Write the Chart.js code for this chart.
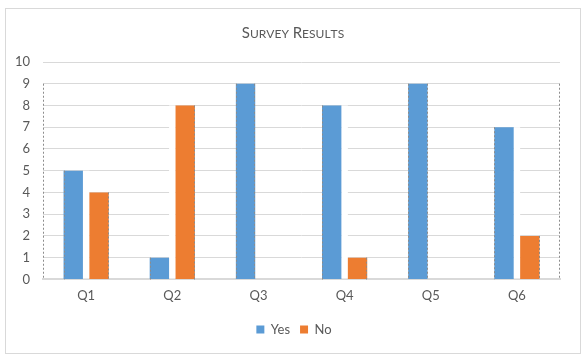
<!DOCTYPE html>
<html><head><meta charset="utf-8">
<script src="https://cdn.jsdelivr.net/npm/chart.js@4/dist/chart.umd.min.js"></script>
<style>html,body{margin:0;padding:0;background:#fff}#wrap{width:586px;height:361px;position:relative}</style>
</head><body><div id="wrap"><canvas id="c" width="586" height="361"></canvas></div>
<script>
const categories = ['Q1','Q2','Q3','Q4','Q5','Q6'];
const yesValues = [5,1,9,8,9,7];
const noValues = [4,8,0,1,0,2];
const seriesNames = ['Yes','No'];
const yTicks = [0,1,2,3,4,5,6,7,8,9,10];
const chartTitle = 'Survey Results';

const FONT = 'Lato, "Liberation Sans", sans-serif';

const framePlugin = {
  id:'frame',
  afterLayout(chart){
    if (chart.legend){ chart.legend.left += 26; }
  },
  beforeDraw(chart){
    const ctx = chart.ctx;
    ctx.save();
    ctx.fillStyle='#fff';
    ctx.fillRect(0,0,chart.width,chart.height);
    ctx.strokeStyle='#d9d9d9';
    ctx.lineWidth=1;
    ctx.strokeRect(5.5,8.5,575,345);
    ctx.restore();
  },
  beforeDatasetsDraw(chart){
    const ctx = chart.ctx, y = chart.scales.y;
    const m0 = chart.getDatasetMeta(0).data, m1 = chart.getDatasetMeta(1).data;
    ctx.save();
    ctx.fillStyle='#fff';
    m0.forEach((b,i)=>{
      const v0 = yesValues[i], v1 = noValues[i];
      if (v0>0 && v1>0){
        const top = y.getPixelForValue(Math.max(v0,v1));
        const l = b.x + b.width/2, r = m1[i].x - m1[i].width/2;
        ctx.fillRect(l, top, r-l, y.getPixelForValue(0)-top-1);
      }
    });
    ctx.restore();
  },
  afterDatasetsDraw(chart){
    const ctx = chart.ctx, y = chart.scales.y, a = chart.chartArea;
    const m0 = chart.getDatasetMeta(0).data, m1 = chart.getDatasetMeta(1).data;
    const base = y.getPixelForValue(0);
    ctx.save();
    ctx.strokeStyle='#8c8c8c';
    ctx.lineWidth=1;
    ctx.setLineDash([2,2]);
    const vline=(x,top)=>{ctx.beginPath();ctx.moveTo(Math.round(x)+0.5,top);ctx.lineTo(Math.round(x)+0.5,base);ctx.stroke();};
    const maxV = Math.max(...yesValues,...noValues);
    vline(a.left, y.getPixelForValue(maxV));
    vline(a.right-1, y.getPixelForValue(maxV));
    m0.forEach((b,i)=>{
      if (yesValues[i]>0){
        vline(b.x-b.width/2, b.y);
        if (noValues[i]===0) vline(b.x+b.width/2-1, b.y);
      }
      const c = m1[i];
      if (noValues[i]>0) vline(c.x+c.width/2-1, c.y);
    });
    ctx.restore();
  }
};

const titlePlugin = {
  id:'scTitle',
  afterDraw(chart){
    const ctx = chart.ctx;
    ctx.save();
    ctx.fillStyle='#595959';
    ctx.textBaseline='alphabetic';
    const big = 15, small = 12;
    const runs = [];
    for (const ch of chartTitle){
      const isUp = ch === ch.toUpperCase() && ch !== ' ';
      runs.push({t: ch.toUpperCase(), s: (isUp||ch===' ')? big : small});
    }
    let w = 0;
    runs.forEach(r=>{ctx.font = r.s+'px '+FONT; r.w = ctx.measureText(r.t).width; w += r.w;});
    let x = 293 - w/2;
    runs.forEach(r=>{ctx.font = r.s+'px '+FONT; ctx.fillText(r.t, x, 38); x += r.w;});
    ctx.restore();
  }
};

new Chart(document.getElementById('c'), {
  type:'bar',
  data:{
    labels: categories,
    datasets:[
      {label: seriesNames[0], data: yesValues, backgroundColor:'#5b9bd5'},
      {label: seriesNames[1], data: noValues, backgroundColor:'#ed7d31'}
    ]
  },
  options:{
    responsive:false,
    animation:false,
    devicePixelRatio:1,
    datasets:{bar:{categoryPercentage:0.6, barPercentage:0.75}},
    layout:{padding:{top:62, left:2, right:26, bottom:15}},
    scales:{
      x:{
        grid:{display:false, drawTicks:false},
        border:{display:true, color:'#d9d9d9', width:2},
        ticks:{color:'#595959', font:{family:FONT, size:13}, padding:9}
      },
      y:{
        min:0, max:10,
        afterBuildTicks(s){ s.ticks = yTicks.map(v=>({value:v})); },
        grid:{color:'#d9d9d9', drawTicks:false, lineWidth:1},
        border:{display:false},
        ticks:{color:'#595959', font:{family:FONT, size:13}, padding:13}
      }
    },
    plugins:{
      legend:{position:'bottom', labels:{boxWidth:8, boxHeight:8, color:'#595959', font:{family:FONT, size:13}, padding:10}},
      tooltip:{enabled:false},
      title:{display:false}
    }
  },
  plugins:[framePlugin, titlePlugin]
});
</script></body></html>
